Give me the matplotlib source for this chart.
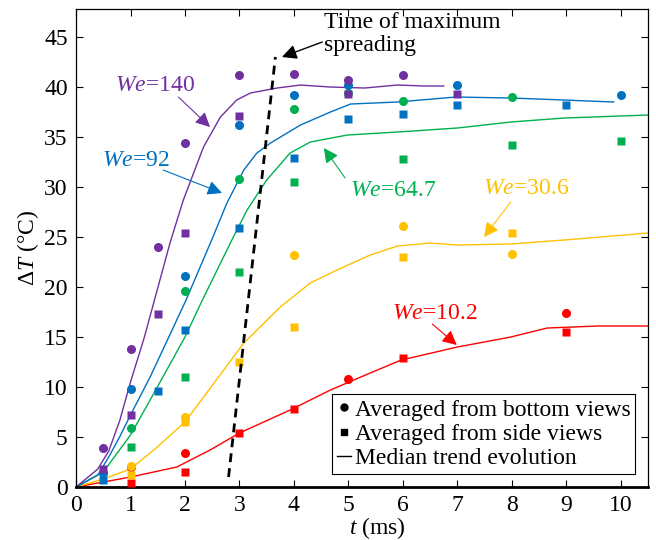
import matplotlib
matplotlib.use('Agg')
import matplotlib.pyplot as plt
from matplotlib import font_manager as fm
from matplotlib.lines import Line2D

# make sure a Times-like serif is registered
for f in fm.findSystemFonts():
    if 'LiberationSerif' in f.replace(' ', '').replace('-', ''):
        try:
            fm.fontManager.addfont(f)
        except Exception:
            pass
serif_names = {f.name for f in fm.fontManager.ttflist}
SERIF = 'Liberation Serif' if 'Liberation Serif' in serif_names else 'STIXGeneral'

plt.rcParams['font.family'] = 'serif'
plt.rcParams['font.serif'] = [SERIF, 'STIXGeneral', 'DejaVu Serif']
plt.rcParams['mathtext.fontset'] = 'custom'
plt.rcParams['mathtext.rm'] = SERIF
plt.rcParams['mathtext.it'] = SERIF + ':italic'
plt.rcParams['font.size'] = 17

# Colours (Office palette)
PURPLE = '#7030A0'
BLUE = '#0070C0'
GREEN = '#00B050'
YELLOW = '#FFC000'
RED = '#FF0000'

# ---- We = 140 ----
we140_circ_t = [0.5, 1, 1.5, 2, 3, 4, 5, 6]
we140_circ_y = [3.9, 13.8, 24.0, 34.4, 41.2, 41.3, 40.7, 41.2]
we140_sq_t = [0.5, 1, 1.5, 2, 3, 5, 7]
we140_sq_y = [1.8, 7.2, 17.3, 25.4, 37.1, 39.3, 39.3]
we140_line_t = [0, 0.4, 0.6, 0.8, 1.0, 1.25, 1.4, 1.73, 1.97, 2.34, 2.65, 2.95, 3.2, 3.69, 4.12,
                4.67, 5.3, 5.9, 6.4, 6.75]
we140_line_y = [0, 1.8, 3.6, 6.6, 10.5, 14.9, 17.9, 24.5, 28.7, 34.0, 37.0, 38.7, 39.4, 39.9, 40.2,
                40.0, 39.9, 40.2, 40.1, 40.1]

# ---- We = 92 ----
we92_circ_t = [0.5, 1, 2, 3, 4, 5, 7, 10]
we92_circ_y = [1.4, 9.8, 21.1, 36.2, 39.2, 40.2, 40.2, 39.2]
we92_sq_t = [0.5, 1.5, 2, 3, 4, 5, 6, 7, 9]
we92_sq_y = [0.7, 9.6, 15.7, 25.9, 32.9, 36.8, 37.3, 38.2, 38.2]
we92_line_t = [0, 0.4, 0.6, 0.8, 1.0, 1.36, 2.02, 2.49, 2.77, 3.08, 3.32, 3.57, 4.12, 4.67, 5.04,
               5.9, 6.97, 7.98, 8.96, 9.87]
we92_line_y = [0, 1.2, 3.0, 5.0, 7.2, 11.0, 18.7, 24.7, 28.4, 31.7, 33.4, 34.4, 36.2, 37.5, 38.3,
               38.5, 39.0, 38.9, 38.7, 38.5]

# ---- We = 64.7 ----
we64_circ_t = [1, 2, 3, 4, 5, 6, 8]
we64_circ_y = [5.9, 19.6, 30.8, 37.8, 39.4, 38.6, 39.0]
we64_sq_t = [1, 2, 3, 4, 6, 8, 10]
we64_sq_y = [4.0, 11.0, 21.5, 30.5, 32.8, 34.2, 34.6]
we64_line_t = [0, 0.5, 1.0, 1.36, 2.0, 2.32, 2.86, 3.14, 3.5, 3.93, 4.3, 4.98, 5.9, 7.0, 7.98,
               8.96, 10.5]
we64_line_y = [0, 1.5, 5.2, 8.7, 15.0, 18.7, 24.7, 27.7, 30.7, 33.4, 34.5, 35.2, 35.5, 35.9, 36.5,
               36.9, 37.2]

# ---- We = 30.6 ----
we30_circ_t = [1, 2, 4, 6, 8]
we30_circ_y = [2.1, 7.0, 23.2, 26.1, 23.3]
we30_sq_t = [1, 2, 3, 4, 6, 8]
we30_sq_y = [1.2, 6.5, 12.5, 16.0, 23.0, 25.4]
we30_line_t = [0, 0.5, 1.0, 1.47, 2.0, 3.08, 3.75, 4.3, 4.79, 5.4, 5.9, 6.5, 7.0, 7.98, 8.96, 10.5]
we30_line_y = [0, 0.8, 1.8, 3.9, 6.5, 14.4, 18.0, 20.4, 21.7, 23.2, 24.1, 24.4, 24.2, 24.3, 24.7, 25.4]

# ---- We = 10.2 ----
we10_circ_t = [1, 2, 5, 9]
we10_circ_y = [2.0, 3.4, 10.8, 17.4]
we10_sq_t = [1, 2, 3, 4, 6, 9]
we10_sq_y = [0.4, 1.5, 5.4, 7.8, 12.9, 15.5]
we10_line_t = [0, 1.0, 1.85, 2.46, 3.0, 3.93, 4.67, 5.4, 5.97, 7.0, 7.98, 8.65, 9.57, 10.5]
we10_line_y = [0, 1.0, 2.0, 3.7, 5.4, 7.7, 9.7, 11.4, 12.7, 14.0, 15.0, 15.9, 16.1, 16.1]

# time of maximum spreading (dashed)
spread_t = [2.8, 3.66]
spread_y = [1.0, 43.0]

series = [
    (we10_line_t, we10_line_y, we10_circ_t, we10_circ_y, we10_sq_t, we10_sq_y, RED),
    (we30_line_t, we30_line_y, we30_circ_t, we30_circ_y, we30_sq_t, we30_sq_y, YELLOW),
    (we64_line_t, we64_line_y, we64_circ_t, we64_circ_y, we64_sq_t, we64_sq_y, GREEN),
    (we92_line_t, we92_line_y, we92_circ_t, we92_circ_y, we92_sq_t, we92_sq_y, BLUE),
    (we140_line_t, we140_line_y, we140_circ_t, we140_circ_y, we140_sq_t, we140_sq_y, PURPLE),
]

# label text, text position, arrow tail, arrow head, colour
labels = [
    (r'$We$=140', (1.45, 40.2), (1.88, 39.0), (2.46, 36.0), PURPLE),
    (r'$We$=92', (1.10, 32.7), (1.60, 31.7), (2.68, 29.4), BLUE),
    (r'$We$=64.7', (5.82, 29.7), (4.94, 30.9), (4.55, 33.9), GREEN),
    (r'$We$=30.6', (8.27, 29.9), (7.98, 28.5), (7.49, 25.0), YELLOW),
    (r'$We$=10.2', (6.58, 17.4), (6.54, 16.3), (6.99, 14.2), RED),
]

fig = plt.figure(figsize=(6.56, 5.4), dpi=100)
ax = fig.add_axes([0.1159, 0.0981, 0.8719, 0.8852])

for lt, ly, ct, cy, st, sy, c in series:
    ax.plot(lt, ly, color=c, lw=1.0, zorder=2)
for lt, ly, ct, cy, st, sy, c in series:
    ax.plot(st, sy, 's', color=c, ms=6.3, mec='none', zorder=3)
    ax.plot(ct, cy, 'o', color=c, ms=6.5, mec='none', zorder=3)

ax.plot(spread_t, spread_y, color='black', lw=2.0, ls=(0, (3.2, 2.2)), zorder=4)

for txt, pos, tail, head, c in labels:
    ax.text(pos[0], pos[1], txt, color=c, ha='center', va='center')
    ax.annotate('', xy=head, xytext=tail,
                arrowprops=dict(arrowstyle='-|>', color=c, lw=0.8, mutation_scale=22,
                                shrinkA=0, shrinkB=0))

ax.text(4.55, 45.3, 'Time of maximum\nspreading', ha='left', va='center', linespacing=1.1)
ax.annotate('', xy=(3.78, 43.0), xytext=(4.52, 44.5),
            arrowprops=dict(arrowstyle='-|>', color='black', lw=1.0, mutation_scale=22,
                            shrinkA=0, shrinkB=0))

ax.set_xlim(0, 10.5)
ax.set_ylim(0, 47.8)
ax.set_xticks(range(0, 11))
ax.set_yticks(range(0, 46, 5))
ax.tick_params(direction='in', top=True, right=True, length=5, width=0.8, pad=6,
               labelsize=17)

for s in ['top', 'left', 'right']:
    ax.spines[s].set_linewidth(0.9)
ax.spines['bottom'].set_linewidth(2.0)

ax.set_xlabel(r'$t$ (ms)')
ax.set_ylabel(r'$\Delta T$ (°C)', labelpad=2)
ax.xaxis.set_label_coords(0.527, -0.058)

handles = [
    Line2D([], [], marker='o', color='black', ls='none', ms=5),
    Line2D([], [], marker='s', color='black', ls='none', ms=5),
    Line2D([], [], color='black', lw=1.0),
]
leg = ax.legend(handles, ['Averaged from bottom views', 'Averaged from side views',
                          'Median trend evolution'],
                loc='lower right', handlelength=0.6, handletextpad=0.15,
                borderpad=0.2, labelspacing=0.12, borderaxespad=0.55, fancybox=False,
                framealpha=1, edgecolor='black')
leg.get_frame().set_linewidth(0.8)

fig.savefig('out.png', dpi=100)
